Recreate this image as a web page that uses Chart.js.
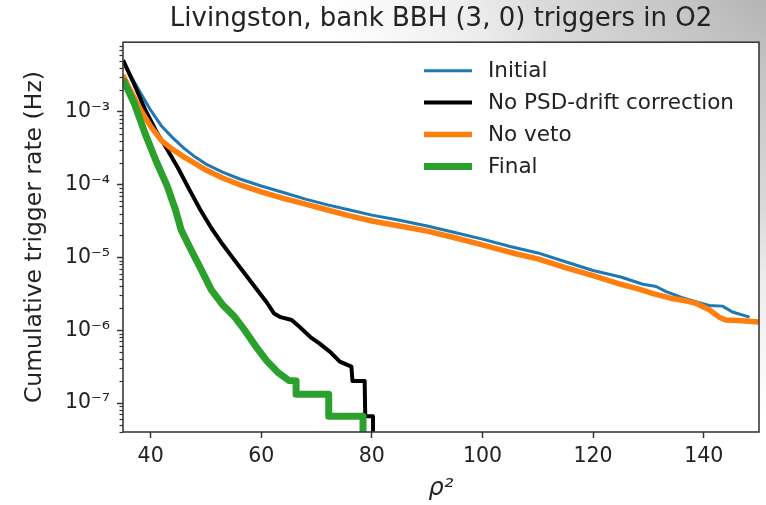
<!DOCTYPE html>
<html lang="en">
<head>
<meta charset="UTF-8">
<title>Livingston, bank BBH (3, 0) triggers in O2</title>
<script src="https://cdn.jsdelivr.net/npm/chart.js@4.4.0/dist/chart.umd.min.js"></script>
<style>
  html, body { margin: 0; padding: 0; background: #fff; }
  canvas { display: block; }
</style>
</head>
<body>
<canvas id="chart" width="766" height="505"></canvas>
<script>
// ── data (x = rho^2, y = cumulative rate in Hz) ────────────────────────────
const initialX    = [35, 36, 38, 40, 42, 44, 46, 48, 50, 53, 56, 60, 64, 68, 72, 76, 80, 85, 90, 95,
                     100, 105, 110, 115, 120, 125, 129, 131.4, 133.2, 136, 139, 141, 143.4, 145.2, 148.3]
const initialRate = [5.0e-3, 3.55e-3, 1.91e-3, 1.05e-3, 6.3e-4, 4.37e-4, 3.16e-4, 2.4e-4, 1.91e-4, 1.48e-4,
                     1.2e-4, 9.55e-5, 7.76e-5, 6.3e-5, 5.25e-5, 4.47e-5, 3.8e-5, 3.24e-5, 2.69e-5, 2.19e-5,
                     1.78e-5, 1.41e-5, 1.15e-5, 8.7e-6, 6.6e-6, 5.37e-6, 4.27e-6, 3.98e-6, 3.39e-6, 2.82e-6,
                     2.4e-6, 2.19e-6, 2.14e-6, 1.78e-6, 1.51e-6]

const noPsdX    = [35, 37, 39, 41, 43, 45, 47, 49, 51, 53, 55, 57, 59, 61, 62.3, 63.5, 65.5, 67, 69, 70.5,
                   72.5, 74.2, 76.3, 76.5, 78.7, 78.8, 80.2, 80.2]
const noPsdRate = [5.1e-3, 2.4e-3, 1.07e-3, 5.4e-4, 3.02e-4, 1.66e-4, 8.5e-5, 4.47e-5, 2.51e-5, 1.51e-5,
                   9.5e-6, 6.0e-6, 3.8e-6, 2.4e-6, 1.7e-6, 1.51e-6, 1.38e-6, 1.1e-6, 7.9e-7, 6.6e-7,
                   5.0e-7, 3.7e-7, 3.16e-7, 2.0e-7, 2.0e-7, 6.6e-8, 6.6e-8, 1e-9]

const noVetoX    = [35, 36, 38, 40, 42, 44, 46, 48, 50, 53, 56, 60, 64, 68, 72, 76, 80, 85, 90, 95,
                    100, 103, 106, 110, 115, 120, 125, 128, 131, 134, 137, 138.6, 141, 142.8, 144, 147, 150]
const noVetoRate = [3.16e-3, 2.19e-3, 1.12e-3, 6.3e-4, 3.98e-4, 3.02e-4, 2.4e-4, 1.95e-4, 1.58e-4, 1.23e-4,
                    1.0e-4, 7.94e-5, 6.46e-5, 5.37e-5, 4.47e-5, 3.72e-5, 3.16e-5, 2.69e-5, 2.29e-5, 1.86e-5,
                    1.48e-5, 1.29e-5, 1.12e-5, 9.55e-6, 7.24e-6, 5.62e-6, 4.27e-6, 3.72e-6, 3.16e-6, 2.75e-6,
                    2.51e-6, 2.34e-6, 1.91e-6, 1.51e-6, 1.38e-6, 1.35e-6, 1.29e-6]

const finalX    = [35, 37, 39, 41, 43, 44.5, 45.5, 47, 49, 51, 53, 55, 57, 59, 61, 63, 65, 66.3, 66.3,
                   72.2, 72.2, 78.4, 78.4]
const finalRate = [2.8e-3, 1.32e-3, 5.0e-4, 2.09e-4, 9.5e-5, 4.47e-5, 2.4e-5, 1.41e-5, 7.1e-6, 3.55e-6,
                   2.24e-6, 1.58e-6, 1.0e-6, 6.0e-7, 3.8e-7, 2.63e-7, 2.04e-7, 2.0e-7, 1.32e-7,
                   1.32e-7, 6.6e-8, 6.6e-8, 1e-9]

const seriesNames = ['Initial', 'No PSD-drift correction', 'No veto', 'Final']
const xTicks = [40, 60, 80, 100, 120, 140]
const yTicks = [1e-7, 1e-6, 1e-5, 1e-4, 1e-3]

// ── styling ───────────────────────────────────────────────────────────────
const FONT = 'DejaVu Sans'
const INK  = '#222'
const SUP  = { '-': '⁻', '0': '⁰', '1': '¹', '2': '²', '3': '³', '4': '⁴', '5': '⁵', '6': '⁶', '7': '⁷', '8': '⁸', '9': '⁹' }
const sup  = s => String(s).split('').map(c => SUP[c]).join('')

const pts = (xs, ys) => xs.map((x, i) => ({ x, y: ys[i] }))

function line(label, xs, ys, color, width, order) {
  return {
    label, data: pts(xs, ys), borderColor: color, backgroundColor: color,
    borderWidth: width, pointRadius: 0, tension: 0, fill: false, clip: 0, order,
    borderJoinStyle: 'round', borderCapStyle: 'butt',
  }
}

// white page with the grey slide backdrop coming in from the top-right corner
const backdrop = {
  id: 'backdrop',
  beforeDraw(chart) {
    const { ctx, width, height, chartArea: a } = chart
    ctx.save()
    ctx.fillStyle = '#fff'
    ctx.fillRect(0, 0, width, height)
    const g = ctx.createRadialGradient(800, -50, 0, 800, -50, 470)
    g.addColorStop(0, '#a6a6a6')
    g.addColorStop(0.27, '#c4c4c4')
    g.addColorStop(0.55, '#d9d9d9')
    g.addColorStop(0.7, '#ececec')
    g.addColorStop(1, '#ffffff')
    ctx.fillStyle = g
    ctx.fillRect(0, 0, width, height)
    ctx.fillStyle = '#fff'
    ctx.fillRect(a.left, a.top, a.right - a.left, a.bottom - a.top)
    ctx.restore()
  }
}

// axes box + log minor ticks
const frame = {
  id: 'frame',
  afterDatasetsDraw(chart) {
    const { ctx, chartArea: a, scales: { y } } = chart
    ctx.save()
    ctx.strokeStyle = '#333'
    ctx.lineWidth = 1.2
    for (let d = -8; d <= -3; d++) {
      for (let m = 2; m <= 9; m++) {
        const v = m * Math.pow(10, d)
        if (v < y.min || v > y.max) continue
        const py = Math.round(y.getPixelForValue(v)) + 0.5
        ctx.beginPath(); ctx.moveTo(a.left - 3.5, py); ctx.lineTo(a.left, py); ctx.stroke()
      }
    }
    ctx.strokeStyle = '#3a3a3a'
    ctx.lineWidth = 1.6
    ctx.strokeRect(a.left, a.top, a.right - a.left, a.bottom - a.top)
    ctx.restore()
  }
}

// matplotlib-style legend inside the axes, no frame
const insideLegend = {
  id: 'insideLegend',
  afterDraw(chart) {
    const { ctx } = chart
    ctx.save()
    ctx.font = `21.5px '${FONT}'`
    ctx.textBaseline = 'middle'
    ctx.textAlign = 'left'
    chart.data.datasets.forEach((ds, i) => {
      const yy = 70.7 + i * 31.9
      ctx.strokeStyle = ds.borderColor
      ctx.lineWidth = ds.borderWidth
      ctx.beginPath(); ctx.moveTo(424, yy); ctx.lineTo(472, yy); ctx.stroke()
      ctx.fillStyle = INK
      ctx.fillText(ds.label, 488, yy + 1)
    })
    ctx.restore()
  }
}

new Chart(document.getElementById('chart'), {
  type: 'line',
  data: {
    datasets: [
      line(seriesNames[0], initialX, initialRate, '#1f77b4', 3, 3),
      line(seriesNames[1], noPsdX, noPsdRate, '#000000', 4, 2),
      line(seriesNames[2], noVetoX, noVetoRate, '#ff7f0e', 5.5, 1),
      line(seriesNames[3], finalX, finalRate, '#2ca02c', 7, 0),
    ]
  },
  options: {
    responsive: false,
    animation: false,
    devicePixelRatio: 1,
    layout: { padding: { left: 0, right: 7, top: 0, bottom: 0 } },
    plugins: {
      legend: { display: false },
      tooltip: { enabled: false },
      title: {
        display: true, fullSize: false,
        text: 'Livingston, bank BBH (3, 0) triggers in O2',
        color: INK, font: { family: FONT, size: 26, weight: 'normal' },
        padding: { top: 4, bottom: 7 },
      },
    },
    scales: {
      x: {
        type: 'linear', min: 35, max: 150,
        border: { display: false },
        grid: { drawOnChartArea: false, tickLength: 6, tickColor: '#333', tickWidth: 1.5 },
        ticks: { color: INK, font: { family: FONT, size: 20.5 }, padding: 6, maxRotation: 0, autoSkip: false },
        afterBuildTicks: s => { s.ticks = xTicks.map(v => ({ value: v })) },
        afterFit: s => { s.height = 73 },
        title: { display: true, text: 'ρ²', color: INK, font: { family: FONT, size: 24, style: 'italic' },
                 padding: { top: 0, bottom: 2 } },
      },
      y: {
        type: 'logarithmic', min: 4e-8, max: 9e-3,
        border: { display: false },
        grid: { drawOnChartArea: false, tickLength: 6, tickColor: '#333', tickWidth: 1.5 },
        ticks: {
          color: INK, font: { family: FONT, size: 20.5 }, padding: 7, autoSkip: false,
          callback: v => '10' + sup(Math.round(Math.log10(v))),
        },
        afterBuildTicks: s => { s.ticks = yTicks.map(v => ({ value: v })) },
        afterFit: s => { s.width = 123 },
        title: { display: true, text: 'Cumulative trigger rate (Hz)', color: INK,
                 font: { family: FONT, size: 23.5 }, padding: { top: 21, bottom: 0 } },
      },
    },
  },
  plugins: [backdrop, frame, insideLegend],
})
</script>
</body>
</html>
